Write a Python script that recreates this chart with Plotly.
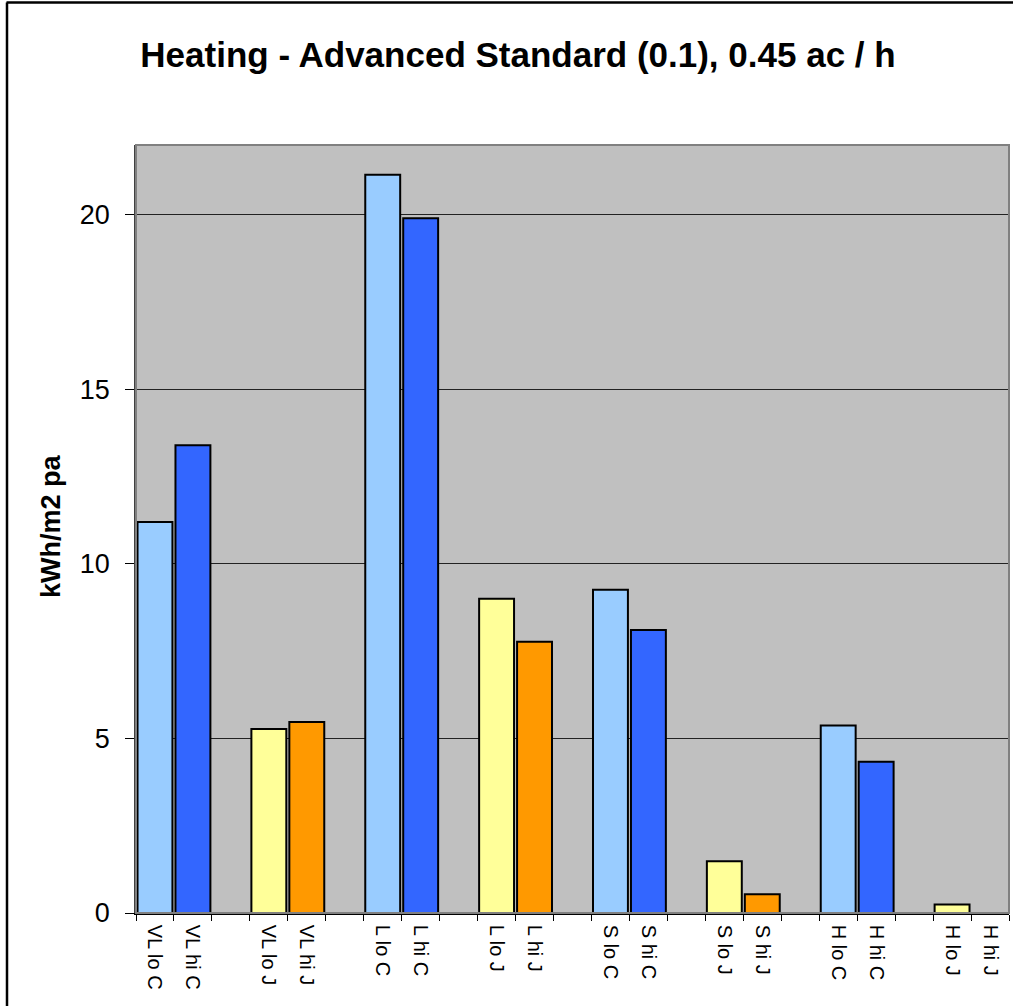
import plotly.graph_objects as go

# Heating demand per case (kWh/m2 pa)
labels = ["VL lo C", "VL hi C", "VL lo J", "VL hi J",
          "L lo C", "L hi C", "L lo J", "L hi J",
          "S lo C", "S hi C", "S lo J", "S hi J",
          "H lo C", "H hi C", "H lo J", "H hi J"]
values = [11.2, 13.4, 5.27, 5.47,
          21.15, 19.9, 9.0, 7.77,
          9.26, 8.11, 1.48, 0.54,
          5.37, 4.33, 0.24, 0.0]
colours = ["#99CCFF", "#3366FF", "#FFFF99", "#FF9900"]
y_ticks = [0, 5, 10, 15, 20]

W, H = 1013, 1006
L, R, T, B = 136, 4, 145, 93
pw, ph = W - L - R, H - T - B

# pairs of bars separated by an empty category slot
order = []
for i in range(0, len(labels), 2):
    order += labels[i:i + 2]
    if i + 2 < len(labels):
        order.append(" " * (i // 2 + 1))

bar_colours = [colours[i % 4] for i in range(len(labels))]

fig = go.Figure(go.Bar(
    x=labels, y=values,
    marker=dict(color=bar_colours, line=dict(color="black", width=2)),
    width=0.92,
))

font = "Liberation Sans, Arial, sans-serif"

def px_x(p):
    return (p - L) / pw

def px_y(p):
    return (H - B - p) / ph

fig.update_layout(
    width=W, height=H,
    margin=dict(l=L, r=R, t=T, b=B),
    paper_bgcolor="white", plot_bgcolor="#C0C0C0",
    showlegend=False,
    font=dict(family=font, color="black"),
    title=dict(text="<b>Heating - Advanced Standard (0.1), 0.45 ac / h</b>",
               font=dict(size=35, family=font, color="black"),
               x=518 / W, xref="container", xanchor="center",
               y=1 - 55 / H, yref="container", yanchor="middle"),
    bargap=0.08,
    xaxis=dict(type="category", categoryorder="array", categoryarray=order,
               range=[-0.5, len(order) - 0.5],
               tickangle=90, tickson="boundaries", ticks="outside",
               ticklen=6, tickcolor="black", tickwidth=1,
               tickfont=dict(size=20, family=font),
               ticklabelstandoff=6,
               showline=True, linecolor="black", linewidth=1.5,
               showgrid=False, zeroline=False, fixedrange=True),
    yaxis=dict(range=[0, 22], tickvals=y_ticks, ticks="outside",
               ticklen=9, tickcolor="black", tickwidth=1,
               tickfont=dict(size=27, family=font),
               ticklabelstandoff=10,
               showline=True, linecolor="#404040", linewidth=1.5,
               showgrid=True, gridcolor="#222222", gridwidth=1,
               zeroline=False, fixedrange=True),
    annotations=[dict(text="<b>kWh/m2 pa</b>", textangle=-90,
                      x=px_x(51), y=px_y(526), xref="paper", yref="paper",
                      xanchor="center", yanchor="middle", showarrow=False,
                      font=dict(size=27, family=font, color="black"))],
    shapes=[
        # plot area frame (top and right edges)
        dict(type="rect", xref="paper", yref="paper", x0=0, x1=1, y0=0, y1=1,
             line=dict(color="#808080", width=2), layer="above"),
        # outer chart border
        dict(type="line", xref="paper", yref="paper",
             x0=px_x(6.5), x1=px_x(W + 5), y0=px_y(2.5), y1=px_y(2.5),
             line=dict(color="black", width=2.5)),
        dict(type="line", xref="paper", yref="paper",
             x0=px_x(7), x1=px_x(7), y0=px_y(2.5), y1=px_y(H + 5),
             line=dict(color="black", width=2.5)),
    ],
)

fig.write_html("out.html")
